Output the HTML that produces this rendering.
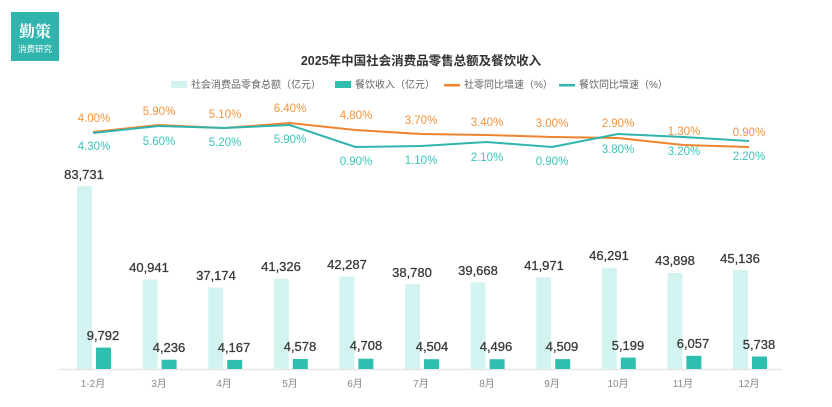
<!DOCTYPE html>
<html><head><meta charset="utf-8"><style>
body{margin:0;background:#fff;width:832px;height:402px;overflow:hidden;font-family:"Liberation Sans","Noto Sans CJK SC",sans-serif}
</style></head><body>
<svg width="832" height="402" xmlns="http://www.w3.org/2000/svg" font-family="Liberation Sans, Noto Sans CJK SC, sans-serif">
<rect x="11" y="12" width="48" height="49" fill="#2fb5ad"/>
<text x="35" y="37" text-anchor="middle" fill="#fff" font-size="16" font-family="Noto Serif CJK SC, serif" font-weight="bold">勤策</text>
<text x="35" y="52" text-anchor="middle" fill="#fff" font-size="8.5">消费研究</text>
<text x="421" y="65" text-anchor="middle" fill="#333" font-size="12.5" font-weight="bold">2025年中国社会消费品零售总额及餐饮收入</text>
<g font-size="10" fill="#666">
<rect x="171" y="81" width="16" height="7" fill="#d3f3f0"/><text x="191" y="88">社会消费品零食总额（亿元）</text>
<rect x="335" y="81" width="16" height="7" fill="#2ebfb1"/><text x="355" y="88">餐饮收入（亿元）</text>
<rect x="444" y="84" width="16" height="2.5" fill="#f0842e"/><text x="464" y="88">社零同比增速（%）</text>
<rect x="559" y="84" width="16" height="2.5" fill="#2fb5ad"/><text x="579" y="88">餐饮同比增速（%）</text>
</g>
<line x1="60" y1="369.5" x2="782" y2="369.5" stroke="#e6e6e6" stroke-width="1.5"/>
<g fill="#d3f3f0">
<rect x="77" y="186" width="15" height="183"/>
<rect x="142.6" y="279.5" width="15" height="89.5"/>
<rect x="208.2" y="287.7" width="15" height="81.3"/>
<rect x="273.8" y="278.7" width="15" height="90.3"/>
<rect x="339.4" y="276.6" width="15" height="92.4"/>
<rect x="405" y="284.2" width="15" height="84.8"/>
<rect x="470.6" y="282.3" width="15" height="86.7"/>
<rect x="536.2" y="277.3" width="15" height="91.7"/>
<rect x="601.8" y="267.8" width="15" height="101.2"/>
<rect x="667.4" y="273" width="15" height="96"/>
<rect x="733" y="270.3" width="15" height="98.7"/>
</g>
<g fill="#2ebfb1">
<rect x="96" y="347.6" width="15" height="21.4"/>
<rect x="161.6" y="359.7" width="15" height="9.3"/>
<rect x="227.2" y="359.9" width="15" height="9.1"/>
<rect x="292.8" y="359" width="15" height="10"/>
<rect x="358.4" y="358.7" width="15" height="10.3"/>
<rect x="424" y="359.2" width="15" height="9.8"/>
<rect x="489.6" y="359.2" width="15" height="9.8"/>
<rect x="555.2" y="359.1" width="15" height="9.9"/>
<rect x="620.8" y="357.6" width="15" height="11.4"/>
<rect x="686.4" y="355.8" width="15" height="13.2"/>
<rect x="752" y="356.5" width="15" height="12.5"/>
</g>
<g font-size="13" fill="#3a3a3a" text-anchor="middle" stroke="#3a3a3a" stroke-width="0.3">
<text x="84" y="179">83,731</text>
<text x="149" y="272">40,941</text>
<text x="216" y="280">37,174</text>
<text x="281" y="271">41,326</text>
<text x="347" y="269">42,287</text>
<text x="412" y="277">38,780</text>
<text x="478" y="275">39,668</text>
<text x="544" y="270">41,971</text>
<text x="609" y="260">46,291</text>
<text x="675" y="265">43,898</text>
<text x="740" y="263">45,136</text>
<text x="103" y="340">9,792</text>
<text x="169" y="352">4,236</text>
<text x="234" y="352">4,167</text>
<text x="300" y="351">4,578</text>
<text x="366" y="350">4,708</text>
<text x="432" y="351">4,504</text>
<text x="496" y="351">4,496</text>
<text x="562" y="351">4,509</text>
<text x="628" y="350">5,199</text>
<text x="693" y="348">6,057</text>
<text x="759" y="349">5,738</text>
</g>
<g font-size="10" fill="#888" text-anchor="middle">
<text x="93" y="387">1-2月</text><text x="159" y="387">3月</text><text x="224" y="387">4月</text><text x="290" y="387">5月</text><text x="355" y="387">6月</text><text x="421" y="387">7月</text><text x="487" y="387">8月</text><text x="552" y="387">9月</text><text x="618" y="387">10月</text><text x="683" y="387">11月</text><text x="749" y="387">12月</text>
</g>
<polyline fill="none" stroke="#f0842e" stroke-width="2" points="93,132 158.6,125 224.2,128 289.8,123 355.4,130 421,134 486.6,135 552.2,137 617.8,138 683.4,145 749,147"/>
<polyline fill="none" stroke="#2fb5ad" stroke-width="2" points="93,133 158.6,126 224.2,128 289.8,125 355.4,147 421,146 486.6,142 552.2,147 617.8,134 683.4,137 749,141"/>
<g font-size="11.5" fill="#f0933e" text-anchor="middle">
<text x="94" y="122">4.00%</text><text x="159" y="115">5.90%</text><text x="225" y="118">5.10%</text><text x="290" y="112">6.40%</text><text x="356" y="119">4.80%</text><text x="421" y="124">3.70%</text><text x="487" y="126">3.40%</text><text x="552" y="127">3.00%</text><text x="618" y="127">2.90%</text><text x="684" y="135">1.30%</text><text x="749" y="136">0.90%</text>
</g>
<g font-size="11.5" fill="#3cc4bb" text-anchor="middle">
<text x="94" y="150">4.30%</text><text x="159" y="145">5.60%</text><text x="225" y="146">5.20%</text><text x="290" y="143">5.90%</text><text x="356" y="165">0.90%</text><text x="421" y="164">1.10%</text><text x="487" y="161">2.10%</text><text x="552" y="165">0.90%</text><text x="618" y="153">3.80%</text><text x="684" y="155">3.20%</text><text x="749" y="160">2.20%</text>
</g>
</svg>
</body></html>
